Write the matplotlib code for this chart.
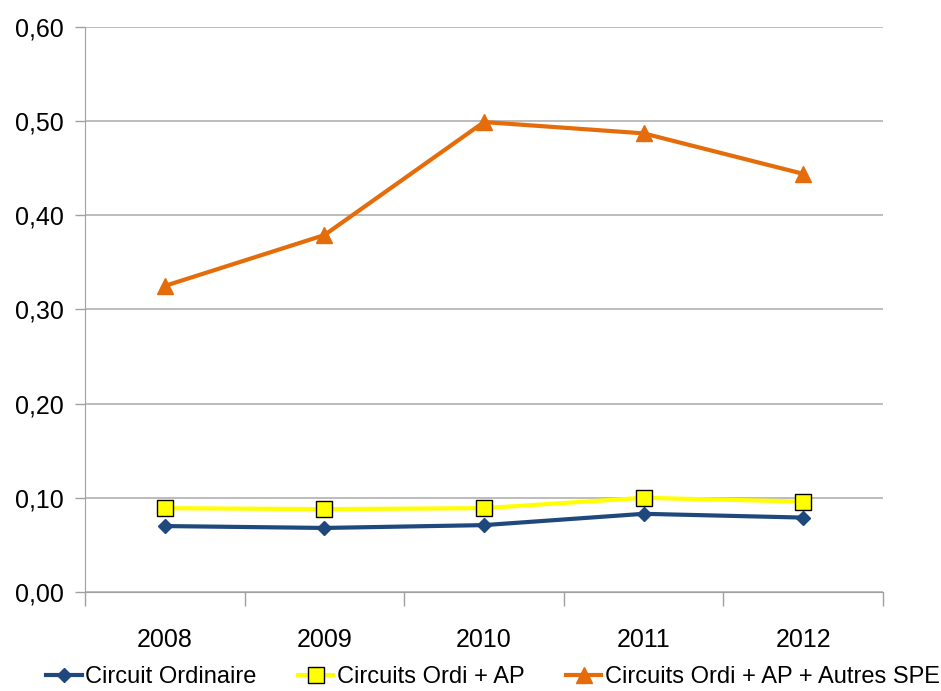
import matplotlib
matplotlib.use("Agg")
import matplotlib.pyplot as plt
from matplotlib import font_manager
from matplotlib.ticker import FixedLocator, NullFormatter

names = {f.name for f in font_manager.fontManager.ttflist}
family = "Liberation Sans Narrow" if "Liberation Sans Narrow" in names else "Liberation Sans"
plt.rcParams["font.family"] = [family, "DejaVu Sans"]

years = ["2008", "2009", "2010", "2011", "2012"]
circuit_ordinaire = [0.070, 0.068, 0.071, 0.083, 0.079]
circuits_ordi_ap = [0.089, 0.088, 0.089, 0.100, 0.096]
circuits_ordi_ap_spe = [0.325, 0.379, 0.499, 0.487, 0.444]
y_ticks = [0.0, 0.1, 0.2, 0.3, 0.4, 0.5, 0.6]

fig = plt.figure(figsize=(9.41, 6.91), dpi=100)
ax = fig.add_axes([0.0903, 0.1433, 0.8481, 0.8177])

x = list(range(len(years)))
ax.plot(x, circuit_ordinaire, color="#1F497D", lw=3, marker="D", ms=7,
        mfc="#1F497D", mec="#1F497D", label="Circuit Ordinaire", zorder=3)
ax.plot(x, circuits_ordi_ap, color="#FFFF00", lw=3, marker="s", ms=11,
        mfc="#FFFF00", mec="#000000", mew=1, label="Circuits Ordi + AP", zorder=3)
ax.plot(x, circuits_ordi_ap_spe, color="#E46C0A", lw=3, marker="^", ms=11,
        mfc="#E46C0A", mec="#E46C0A", label="Circuits Ordi + AP + Autres SPE", zorder=3)

ax.set_xlim(-0.5, len(years) - 0.5)
ax.set_ylim(0, 0.6)
ax.set_yticks(y_ticks)
ax.set_yticklabels([f"{v:.2f}".replace(".", ",") for v in y_ticks])
ax.set_xticks(x)
ax.set_xticklabels(years)
ax.xaxis.set_minor_locator(FixedLocator([i - 0.5 for i in range(len(years) + 1)]))
ax.xaxis.set_minor_formatter(NullFormatter())
ax.tick_params(axis="x", which="major", length=0, pad=26, labelsize=18)
ax.tick_params(axis="x", which="minor", length=10, color="#A0A0A0", width=1)
ax.tick_params(axis="y", which="major", length=7, color="#A0A0A0", width=1, labelsize=18, pad=8)

ax.grid(axis="y", color="#B0B0B0", lw=1.2, zorder=0)
for side in ("top", "right"):
    ax.spines[side].set_visible(False)
ax.spines["left"].set_color("#A0A0A0")
ax.spines["bottom"].set_color("#A0A0A0")

fig.legend(loc="center", bbox_to_anchor=(0.524, 1 - 677 / 691), ncol=3, frameon=False,
           fontsize=17, handlelength=1.5, handletextpad=0.15, columnspacing=1.75,
           borderpad=0, markerscale=1.0)

fig.savefig("out.png", dpi=100)
